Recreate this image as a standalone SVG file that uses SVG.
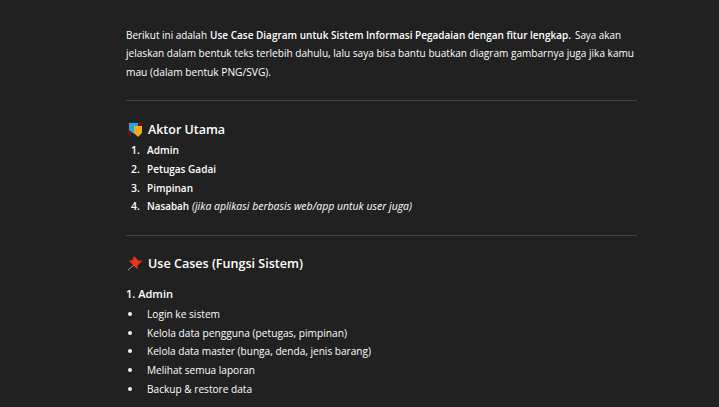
<svg xmlns="http://www.w3.org/2000/svg" width="719" height="407" viewBox="0 0 719 407">
<style>
text{font-family:"Open Sans","Noto Sans","Liberation Sans",sans-serif;font-size:10.5px;fill:#fff;font-weight:500}
.b{font-weight:600;fill:#fff}
.h{font-weight:600;font-size:13px;fill:#fff}
.h4{font-weight:600;font-size:11.5px;fill:#fff}
.i{font-style:italic}
.r{stroke:#444;stroke-width:1}
</style>
<rect width="719" height="407" fill="#212121"/>
<text x="126" y="39" textLength="81" lengthAdjust="spacingAndGlyphs">Berikut ini adalah</text>
<text class="b" x="210" y="39" style="font-size:10.1px" textLength="361" lengthAdjust="spacingAndGlyphs">Use Case Diagram untuk Sistem Informasi Pegadaian dengan fitur lengkap.</text>
<text x="575" y="39" textLength="46" lengthAdjust="spacingAndGlyphs">Saya akan</text>
<text x="126" y="57" textLength="508" lengthAdjust="spacingAndGlyphs">jelaskan dalam bentuk teks terlebih dahulu, lalu saya bisa bantu buatkan diagram gambarnya juga jika kamu</text>
<text x="126" y="76" textLength="145" lengthAdjust="spacingAndGlyphs">mau (dalam bentuk PNG/SVG).</text>
<line class="r" x1="126" y1="100.5" x2="637" y2="100.5"/>
<g id="emoji-masks">
<path d="M128 122h3v14h-3zM138 122h4v6h-4z" fill="#6a1212"/>
<path d="M129 123h9v7l-4 4-5-4z" fill="#1ea7e6"/>
<path d="M134 126h8v7l-4 4-4-4z" fill="#f2a91c"/>
</g>
<text class="h" x="148" y="134" textLength="77" lengthAdjust="spacingAndGlyphs">Aktor Utama</text>
<g>
<text class="b" x="131" y="154">1.</text><text class="b" x="147" y="154" textLength="32" lengthAdjust="spacingAndGlyphs">Admin</text>
<text class="b" x="131" y="173">2.</text><text class="b" x="147" y="173" textLength="69" lengthAdjust="spacingAndGlyphs">Petugas Gadai</text>
<text class="b" x="131" y="192">3.</text><text class="b" x="147" y="192" textLength="46" lengthAdjust="spacingAndGlyphs">Pimpinan</text>
<text class="b" x="131" y="210">4.</text><text class="b" x="147" y="210" textLength="42" lengthAdjust="spacingAndGlyphs">Nasabah</text>
</g>
<text class="i" x="192" y="210" textLength="220" lengthAdjust="spacingAndGlyphs">(jika aplikasi berbasis web/app untuk user juga)</text>
<line class="r" x1="126" y1="235.5" x2="637" y2="235.5"/>
<g id="emoji-pin">
<path d="M128 270l6-5" stroke="#999" stroke-width="1"/>
<path d="M135 257l5 5 2-1 1 1-5 5 1 1-1 2-8-8 2-1 1 1z" fill="#f0311c" transform="translate(-1 -1)"/>
</g>
<text class="h" x="148" y="268" textLength="155" lengthAdjust="spacingAndGlyphs">Use Cases (Fungsi Sistem)</text>
<text class="h4" x="126" y="298" textLength="47" lengthAdjust="spacingAndGlyphs">1. Admin</text>
<g fill="#f4f4f4">
<circle cx="130" cy="314" r="2"/><circle cx="130" cy="333" r="2"/><circle cx="130" cy="351" r="2"/><circle cx="130" cy="370" r="2"/><circle cx="130" cy="389" r="2"/>
</g>
<text x="147" y="318" textLength="73" lengthAdjust="spacingAndGlyphs">Login ke sistem</text>
<text x="147" y="337" textLength="200" lengthAdjust="spacingAndGlyphs">Kelola data pengguna (petugas, pimpinan)</text>
<text x="147" y="355" textLength="224" lengthAdjust="spacingAndGlyphs">Kelola data master (bunga, denda, jenis barang)</text>
<text x="147" y="374" textLength="108" lengthAdjust="spacingAndGlyphs">Melihat semua laporan</text>
<text x="147" y="393" textLength="105" lengthAdjust="spacingAndGlyphs">Backup &amp; restore data</text>
</svg>
